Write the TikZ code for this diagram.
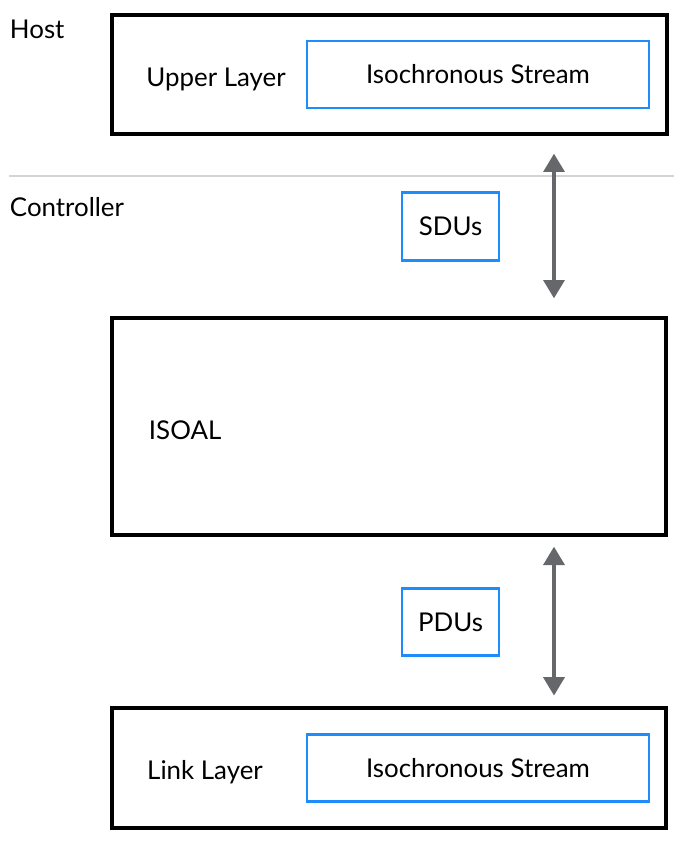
\documentclass[tikz,border=0pt]{standalone}
\usepackage{fontspec}
\setmainfont{Lato}
\usepackage{tikz}
\usetikzlibrary{arrows.meta}

\definecolor{streamblue}{HTML}{1E8CFA}
\definecolor{arrowgrey}{HTML}{66676B}
\definecolor{sepgrey}{HTML}{D4D4D2}

\tikzset{
    layerbox/.style={draw=black, line width=2.4pt, inner sep=0pt},
    streambox/.style={draw=streamblue, line width=2pt, inner sep=0pt, minimum width=8.55cm, minimum height=1.67cm},
    unitbox/.style={draw=streamblue, line width=2pt, inner sep=0pt, minimum width=2.42cm, minimum height=1.68cm},
    label/.style={font=\fontsize{18.4}{22}\selectfont},
    dataflow/.style={{Triangle[width=15pt,length=13pt]}-{Triangle[width=15pt,length=13pt]}, draw=arrowgrey, line width=2.2pt}
}

\begin{document}
\begin{tikzpicture}[x=0.025cm, y=-0.025cm]
                \useasboundingbox (0,0) rectangle (681,842);

                % Host side
                \node[label, anchor=west] (host) at (5,29) {Host};
                \node[layerbox, minimum width=13.875cm, minimum height=2.975cm] (upper) at (389.5,74.5) {};
                \node[label] (upperlbl) at (216,79) {Upper Layer};
                \node[streambox, label] (upperstream) at (478,74.5) {\raisebox{-1.5pt}{Isochronous Stream}};

                % Host / Controller boundary
                \coordinate (sepL) at (9,176);
                \coordinate (sepR) at (674,176);
                \draw[sepgrey, line width=1.5pt] (sepL) -- (sepR);
                \node[label, anchor=west] (controller) at (5,207) {Controller};

                % SDUs
                \node[unitbox, label] (sdus) at (450.5,226.5) {\raisebox{-1pt}{SDUs}};

                % ISOAL
                \node[layerbox, minimum width=13.85cm, minimum height=5.425cm] (isoal) at (389,426.5) {};
                \node[label, anchor=west] (isoallbl) at (144,430) {ISOAL};

                % PDUs
                \node[unitbox, label] (pdus) at (450.5,622) {\raisebox{-1pt}{PDUs}};

                % Link Layer
                \node[layerbox, minimum width=13.85cm, minimum height=3cm] (link) at (389,768) {};
                \node[label] (linklbl) at (205,772) {Link Layer};
                \node[streambox, label] (linkstream) at (478,768) {\raisebox{-1.5pt}{Isochronous Stream}};

                % Flows
                \coordinate (axis) at (554,0);
                \draw[dataflow, shorten <=0.45cm, shorten >=0.45cm] (upper.south -| axis) -- (isoal.north -| axis);
                \draw[dataflow, shorten <=0.25cm, shorten >=0.27cm] (isoal.south -| axis) -- (link.north -| axis);
\end{tikzpicture}
\end{document}
